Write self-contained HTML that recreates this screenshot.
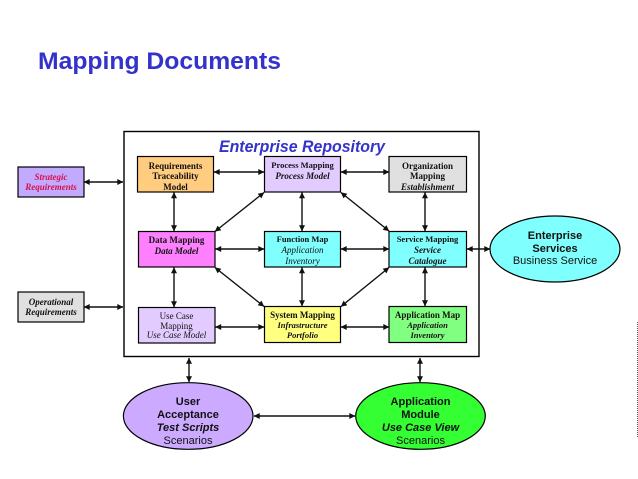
<!DOCTYPE html>
<html><head><meta charset="utf-8"><style>
html,body{margin:0;padding:0;background:#fff;width:638px;height:479px;overflow:hidden}
svg{display:block;filter:blur(0.35px)}
.s{font-family:"Liberation Serif",serif;font-size:9px;fill:#111;text-anchor:middle}
.b{font-weight:bold}
.i{font-style:italic}
.a{font-family:"Liberation Sans",sans-serif;font-size:11px;fill:#111;text-anchor:middle}
.box{stroke:#000;stroke-width:1.2}
.l{stroke:#111;stroke-width:1.4;fill:none;marker-start:url(#m);marker-end:url(#m)}
</style></head><body>
<svg width="638" height="479" viewBox="0 0 638 479" xmlns="http://www.w3.org/2000/svg">
<defs><marker id="m" viewBox="0 0 10 10" refX="9.5" refY="5" markerWidth="6.5" markerHeight="6" orient="auto-start-reverse" markerUnits="userSpaceOnUse"><path d="M0 0L10 5L0 10Z" fill="#111"/></marker></defs>
<text x="38" y="69" font-family="Liberation Sans" font-weight="bold" font-size="24" fill="#3333cc" textLength="243" lengthAdjust="spacingAndGlyphs">Mapping Documents</text>
<rect x="124" y="131.500" width="355" height="225" fill="#fff" stroke="#000" stroke-width="1.4"/>
<text x="302" y="152" font-family="Liberation Sans" font-weight="bold" font-style="italic" font-size="16.500" fill="#3333cc" text-anchor="middle" textLength="166" lengthAdjust="spacingAndGlyphs">Enterprise Repository</text>

<rect class="box" x="18" y="167" width="66" height="30" fill="#c2aaff" stroke="#444"/>
<rect class="box" x="18" y="292" width="66" height="30" fill="#e0e0e0" stroke="#444"/>
<rect class="box" x="137.500" y="156.500" width="76" height="35.500" fill="#ffcc80"/>
<rect class="box" x="264.500" y="156.500" width="76" height="35.500" fill="#e2ccff"/>
<rect class="box" x="389" y="156.500" width="77.500" height="35.500" fill="#e0e0e0"/>
<rect class="box" x="138.500" y="231.500" width="76.500" height="35.500" fill="#ff80ff"/>
<rect class="box" x="264.500" y="231.500" width="76" height="35.500" fill="#80ffff"/>
<rect class="box" x="389" y="231.500" width="77.500" height="35.500" fill="#80ffff"/>
<rect class="box" x="138.500" y="307.500" width="76.500" height="35.500" fill="#e2ccff"/>
<rect class="box" x="264.500" y="306.500" width="76" height="36" fill="#ffff80"/>
<rect class="box" x="389" y="306.500" width="77.500" height="36" fill="#80ff80"/>

<ellipse cx="188.200" cy="416" rx="64.800" ry="33.300" fill="#ccaaff" stroke="#000" stroke-width="1.200"/>
<ellipse cx="420.500" cy="416" rx="64.800" ry="33.300" fill="#33ff33" stroke="#000" stroke-width="1.200"/>
<ellipse cx="555" cy="249" rx="65" ry="33" fill="#80ffff" stroke="#000" stroke-width="1.200"/>

<path class="l" d="M84 182H123"/>
<path class="l" d="M84 307H123"/>
<path class="l" d="M214 172H264"/>
<path class="l" d="M341 172H389"/>
<path class="l" d="M174 192.500V231"/>
<path class="l" d="M302 192.500V231"/>
<path class="l" d="M425 192.500V231"/>
<path class="l" d="M215.500 249H264"/>
<path class="l" d="M341 249H389"/>
<path class="l" d="M174 267.500V307"/>
<path class="l" d="M302 267.500V306"/>
<path class="l" d="M425 267.500V306"/>
<path class="l" d="M215.500 327H264"/>
<path class="l" d="M341 327H389"/>
<path class="l" d="M215 231.500L264 192.500"/>
<path class="l" d="M341 192.500L389 231"/>
<path class="l" d="M215 267.500L264 306.500"/>
<path class="l" d="M341 306.500L389 267.500"/>
<path class="l" d="M467 249H490"/>
<path class="l" d="M189 358V382"/>
<path class="l" d="M420 358V382"/>
<path class="l" d="M254 416H355"/>

<path d="M637.500 322V437" stroke="#555" stroke-width="1" stroke-dasharray="1 1"/>

<g class="s">
<text class="s b i" x="51" y="180" style="fill:#d8104a">Strategic</text>
<text class="s b i" x="51" y="190" style="fill:#d8104a">Requirements</text>
<text class="s b i" x="51" y="305">Operational</text>
<text class="s b i" x="51" y="315">Requirements</text>

<text class="s b" x="175.500" y="169">Requirements</text>
<text class="s b" x="175.500" y="179">Traceability</text>
<text class="s b" x="175.500" y="190">Model</text>

<text class="s b" x="302.500" y="168" style="font-size:8.500px">Process Mapping</text>
<text class="s b i" x="302.500" y="179">Process Model</text>

<text class="s b" x="427.500" y="169">Organization</text>
<text class="s b" x="427.500" y="179">Mapping</text>
<text class="s b i" x="427.500" y="190">Establishment</text>

<text class="s b" x="176.500" y="243">Data Mapping</text>
<text class="s b i" x="176.500" y="254">Data Model</text>

<text class="s b" x="302.500" y="242" style="font-size:8.500px">Function Map</text>
<text class="s i" x="302.500" y="253">Application</text>
<text class="s i" x="302.500" y="264">Inventory</text>

<text class="s b" x="427.500" y="242" style="font-size:8.500px">Service  Mapping</text>
<text class="s b i" x="427.500" y="253">Service</text>
<text class="s b i" x="427.500" y="264">Catalogue</text>

<text class="s" x="176.500" y="319">Use Case</text>
<text class="s" x="176.500" y="329">Mapping</text>
<text class="s i" x="176.500" y="338">Use Case Model</text>

<text class="s b" x="302.500" y="318">System Mapping</text>
<text class="s b i" x="302.500" y="328" style="font-size:8.500px">Infrastructure</text>
<text class="s b i" x="302.500" y="338" style="font-size:8.500px">Portfolio</text>

<text class="s b" x="427.500" y="318">Application  Map</text>
<text class="s b i" x="427.500" y="328" style="font-size:8.500px">Application</text>
<text class="s b i" x="427.500" y="338" style="font-size:8.500px">Inventory</text>
</g>

<text class="a b" x="188" y="405">User</text>
<text class="a b" x="188" y="418">Acceptance</text>
<text class="a b i" x="188" y="431">Test Scripts</text>
<text class="a" x="188" y="444">Scenarios</text>

<text class="a b" x="420.500" y="405">Application</text>
<text class="a b" x="420.500" y="418">Module</text>
<text class="a b i" x="420.500" y="431">Use Case View</text>
<text class="a" x="420.500" y="444">Scenarios</text>

<text class="a b" x="555" y="239">Enterprise</text>
<text class="a b" x="555" y="252">Services</text>
<text class="a" x="555" y="264">Business Service</text>
</svg>
</body></html>
